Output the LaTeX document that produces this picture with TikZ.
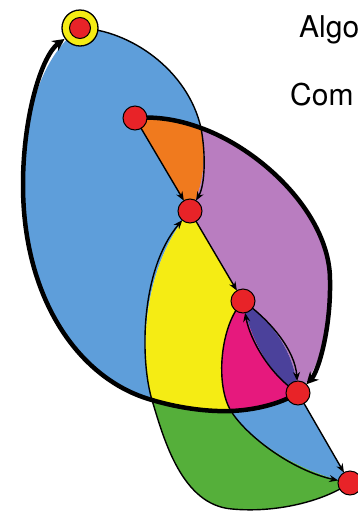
\documentclass[tikz,border=0pt]{standalone}
\usepackage{fontspec}
\setmainfont{TeX Gyre Heros}
\usetikzlibrary{arrows.meta}
\pgfdeclarelayer{bg}
\pgfsetlayers{bg,main}
\definecolor{blueC}{RGB}{94,158,218}
\definecolor{orangeC}{RGB}{240,122,30}
\definecolor{purpleC}{RGB}{185,125,192}
\definecolor{yellowC}{RGB}{245,236,20}
\definecolor{pinkC}{RGB}{230,25,125}
\definecolor{indigoC}{RGB}{75,65,155}
\definecolor{greenC}{RGB}{85,175,58}
\definecolor{redC}{RGB}{232,35,40}
\tikzset{
  dot/.style={circle, draw=black, fill=redC, line width=1pt, minimum size=24pt, inner sep=0pt},
  ring/.style={circle, draw=black, fill=yellowC, line width=1.3pt, minimum size=36pt, inner sep=0pt},
  innerdot/.style={circle, draw=black, fill=redC, line width=1pt, minimum size=21pt, inner sep=0pt},
  thinline/.style={draw=black, line width=1.4pt, -{Stealth[length=9pt,width=7pt]}, shorten >=12pt},
  thickline/.style={draw=black, line width=4.5pt, -{Stealth[length=12pt,width=12pt]}, shorten >=12pt},
  label/.style={anchor=base west, inner sep=0pt, font=\fontsize{30}{36}\selectfont}
}
\begin{document}
\begin{tikzpicture}[x=1pt,y=-1pt]
\useasboundingbox (0,0) rectangle (358,512);
% helper points where curves cross
\coordinate (p1) at (201,128);
\coordinate (q1) at (231,411);
\coordinate (q2) at (152,400);
\coordinate (l) at (23,185);
\coordinate (r) at (330,280);
\coordinate (g) at (232,509);
% nodes
\node[ring] (A) at (80,28) {};
\node[innerdot] (Ain) at (80,28) {};
\node[dot] (B) at (135,118) {};
\node[dot] (C) at (190,211) {};
\node[dot] (D) at (243,301) {};
\node[dot] (E) at (298,393) {};
\node[dot] (F) at (350,483) {};
\begin{pgfonlayer}{bg}
\fill[white] (0,0) rectangle (358,512);
% regions
\fill[blueC] (A.center) .. controls (130,30) and (188,70) .. (p1)
  .. controls (206,155) and (205,185) .. (C.center)
  .. controls (140,270) and (140,360) .. (q2)
  .. controls (80,380) and (23,300) .. (l)
  .. controls (23,115) and (42,55) .. (A.center) -- cycle;
\fill[orangeC] (B.center) .. controls (160,116) and (182,121) .. (p1)
  .. controls (206,155) and (205,185) .. (C.center) -- cycle;
\fill[purpleC] (p1) .. controls (262,150) and (330,215) .. (r)
  .. controls (331,330) and (318,372) .. (E.center)
  .. controls (295,350) and (270,320) .. (D.center) -- (C.center)
  .. controls (205,185) and (206,155) .. (p1) -- cycle;
\fill[yellowC] (C.center) -- (D.center) .. controls (220,325) and (215,385) .. (q1)
  .. controls (205,412) and (175,407) .. (q2)
  .. controls (140,360) and (140,270) .. (C.center) -- cycle;
\fill[pinkC] (D.center) .. controls (220,325) and (215,385) .. (q1)
  .. controls (255,410) and (280,404) .. (E.center)
  .. controls (270,375) and (250,340) .. (D.center) -- cycle;
\fill[indigoC] (D.center) .. controls (270,320) and (295,350) .. (E.center)
  .. controls (270,375) and (250,340) .. (D.center) -- cycle;
\fill[blueC] (q1) .. controls (245,434) and (290,470) .. (F.center) -- (E.center)
  .. controls (280,404) and (255,410) .. (q1) -- cycle;
\fill[greenC] (q2) .. controls (175,407) and (205,412) .. (q1)
  .. controls (245,434) and (290,470) .. (F.center)
  .. controls (322,502) and (275,513) .. (g)
  .. controls (182,505) and (164,440) .. (q2) -- cycle;
% thin connectors
\draw[thinline] (A.center) .. controls (130,30) and (188,70) .. (p1)
  .. controls (206,155) and (205,185) .. (C.center);
\draw[thinline] (B.center) -- (C.center);
\draw[thinline] (C.center) -- (D.center);
\draw[thinline] (D.center) .. controls (270,320) and (295,350) .. (E.center);
\draw[thinline] (E.center) .. controls (270,375) and (250,340) .. (D.center);
\draw[thinline] (D.center) .. controls (220,325) and (215,385) .. (q1)
  .. controls (245,434) and (290,470) .. (F.center);
\draw[thinline] (F.center) .. controls (322,502) and (275,513) .. (g)
  .. controls (182,505) and (164,440) .. (q2)
  .. controls (140,360) and (140,270) .. (C.center);
\draw[thinline] (E.center) -- (F.center);
% thick connectors
\draw[thickline, shorten >=19pt] (E.center) .. controls (280,404) and (255,410) .. (q1)
  .. controls (205,412) and (175,407) .. (q2)
  .. controls (80,380) and (23,300) .. (l)
  .. controls (23,115) and (42,55) .. (A.center);
\draw[thickline] (B.center) .. controls (160,116) and (182,121) .. (p1)
  .. controls (262,150) and (330,215) .. (r)
  .. controls (331,330) and (318,372) .. (E.center);
\end{pgfonlayer}
% text
\begin{scope}
\clip (0,0) rectangle (358,512);
\node[label] (t1) at (299,37) {Algo};
\node[label] (t2) at (290,105) {Com};
\end{scope}
\end{tikzpicture}
\end{document}
